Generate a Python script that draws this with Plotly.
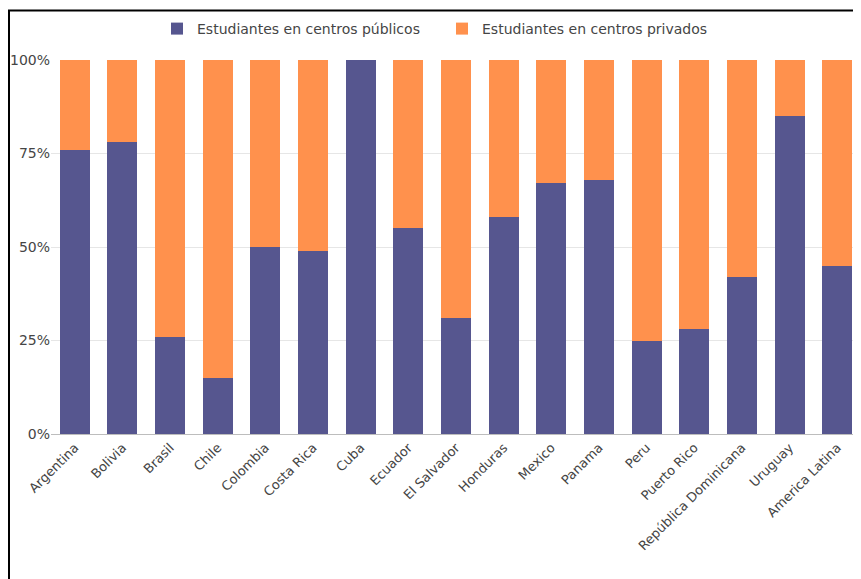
import plotly.graph_objects as go

countries = ["Argentina", "Bolivia", "Brasil", "Chile", "Colombia", "Costa Rica", "Cuba",
             "Ecuador", "El Salvador", "Honduras", "Mexico", "Panama", "Peru", "Puerto Rico",
             "República Dominicana", "Uruguay", "America Latina"]
publicos = [76, 78, 26, 15, 50, 49, 100, 55, 31, 58, 67, 68, 25, 28, 42, 85, 45]
privados = [100 - v for v in publicos]
tick_vals = [0, 25, 50, 75, 100]
tick_text = ["0%", "25%", "50%", "75%", "100%"]

BLUE = "#56568f"
ORANGE = "#ff914d"
FONT = "DejaVu Sans"

# page body adds an 8px offset; size the figure to fit the window
W, H = 853, 571
ML, MR, MT, MB = 43, 0, 52, 145

fig = go.Figure()
fig.add_trace(go.Bar(x=countries, y=publicos, name="Estudiantes en centros públicos",
                     marker=dict(color=BLUE, line=dict(width=0))))
fig.add_trace(go.Bar(x=countries, y=privados, name="Estudiantes en centros privados",
                     marker=dict(color=ORANGE, line=dict(width=0))))

pw = W - ML - MR
ph = H - MT - MB
def px_x(p):
    return (p - ML) / pw
def px_y(p):
    return (H - MB - p) / ph

fig.update_layout(
    width=W, height=H,
    barmode="stack", bargap=0.37,
    margin=dict(l=ML, r=MR, t=MT, b=MB),
    paper_bgcolor="white", plot_bgcolor="white",
    font=dict(family=FONT, size=13, color="#454545"),
    showlegend=True,
    legend=dict(orientation="h", x=px_x(149), xanchor="left", y=px_y(21), yanchor="middle",
                entrywidth=240, entrywidthmode="pixels",
                font=dict(size=14, color="#454545"), traceorder="normal"),
    xaxis=dict(tickangle=-45, showgrid=False, showline=True, linecolor="#bdbdbd",
               linewidth=1, ticks="", tickfont=dict(size=13, color="#454545")),
    yaxis=dict(range=[0, 100], tickvals=tick_vals, ticktext=tick_text,
               showgrid=True, gridcolor="#e6e6e6", gridwidth=1, zeroline=False,
               ticks="", tickfont=dict(size=14, color="#454545")),
    shapes=[
        dict(type="line", xref="paper", yref="paper", x0=px_x(0), x1=px_x(W),
             y0=px_y(2.5), y1=px_y(2.5), line=dict(color="black", width=2)),
        dict(type="line", xref="paper", yref="paper", x0=px_x(1), x1=px_x(1),
             y0=px_y(2), y1=px_y(H), line=dict(color="black", width=2)),
    ],
)

fig.write_html("out.html")
